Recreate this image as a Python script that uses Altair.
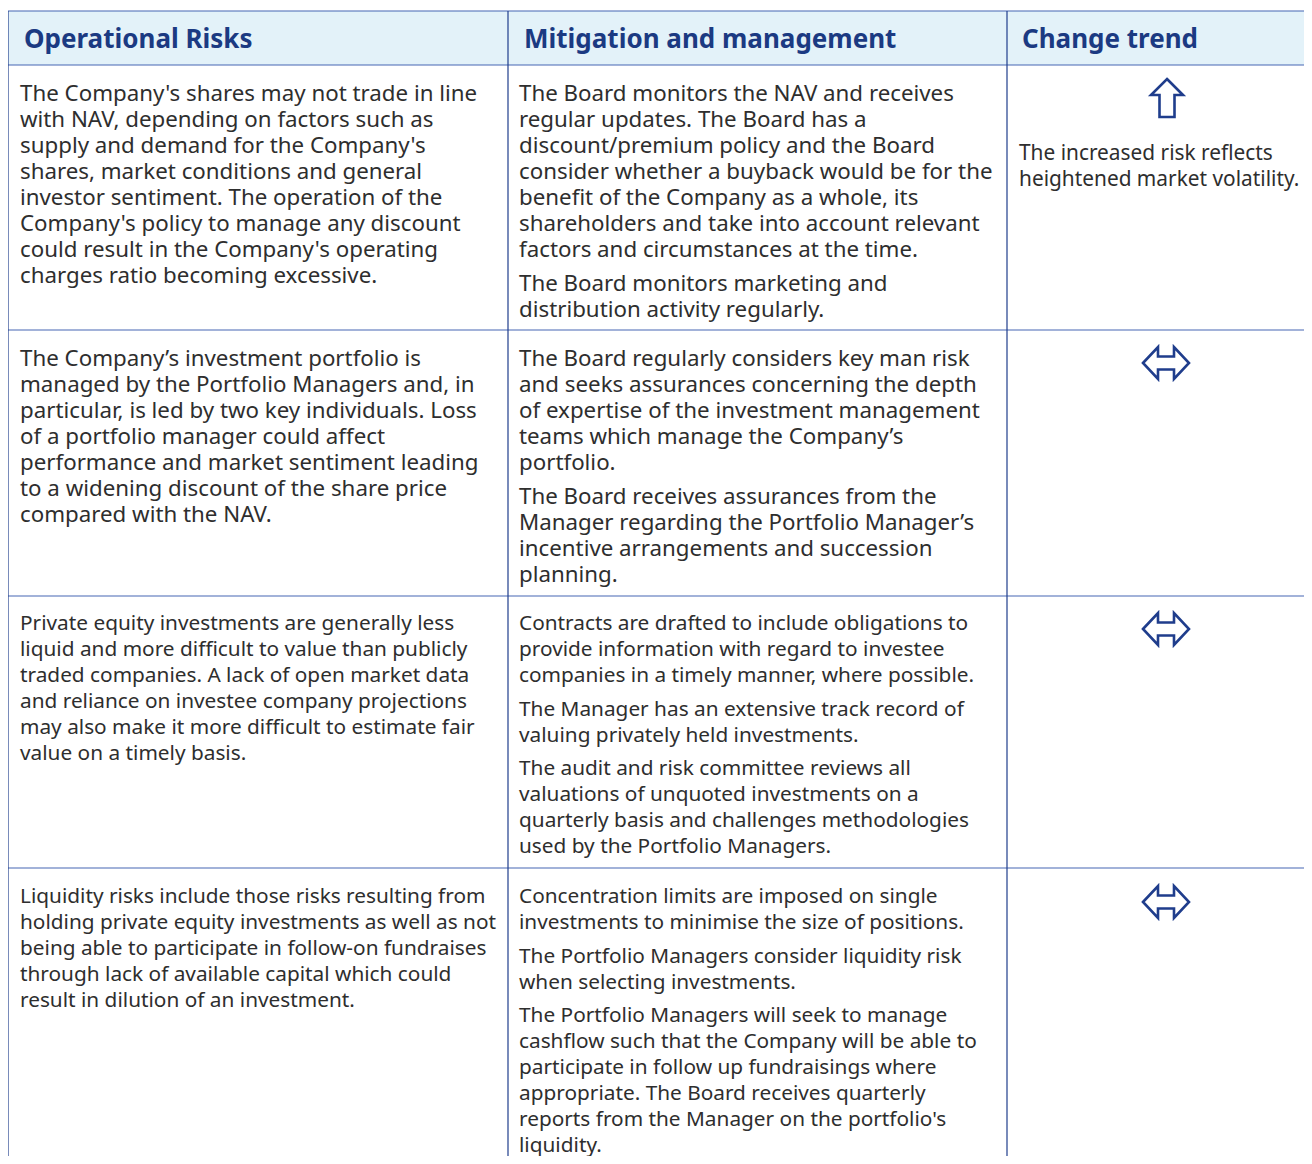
import altair as alt
import pandas as pd

# ---------------- data ----------------
headers = ["Operational Risks", "Mitigation and management", "Change trend"]

risk_text = [
    [["The Company's shares may not trade in line",
      "with NAV, depending on factors such as",
      "supply and demand for the Company's",
      "shares, market conditions and general",
      "investor sentiment. The operation of the",
      "Company's policy to manage any discount",
      "could result in the Company's operating",
      "charges ratio becoming excessive."]],
    [["The Company’s investment portfolio is",
      "managed by the Portfolio Managers and, in",
      "particular, is led by two key individuals. Loss",
      "of a portfolio manager could affect",
      "performance and market sentiment leading",
      "to a widening discount of the share price",
      "compared with the NAV."]],
    [["Private equity investments are generally less",
      "liquid and more difficult to value than publicly",
      "traded companies. A lack of open market data",
      "and reliance on investee company projections",
      "may also make it more difficult to estimate fair",
      "value on a timely basis."]],
    [["Liquidity risks include those risks resulting from",
      "holding private equity investments as well as not",
      "being able to participate in follow-on fundraises",
      "through lack of available capital which could",
      "result in dilution of an investment."]],
]

mitigation_text = [
    [["The Board monitors the NAV and receives",
      "regular updates. The Board has a",
      "discount/premium policy and the Board",
      "consider whether a buyback would be for the",
      "benefit of the Company as a whole, its",
      "shareholders and take into account relevant",
      "factors and circumstances at the time."],
     ["The Board monitors marketing and",
      "distribution activity regularly."]],
    [["The Board regularly considers key man risk",
      "and seeks assurances concerning the depth",
      "of expertise of the investment management",
      "teams which manage the Company’s",
      "portfolio."],
     ["The Board receives assurances from the",
      "Manager regarding the Portfolio Manager’s",
      "incentive arrangements and succession",
      "planning."]],
    [["Contracts are drafted to include obligations to",
      "provide information with regard to investee",
      "companies in a timely manner, where possible."],
     ["The Manager has an extensive track record of",
      "valuing privately held investments."],
     ["The audit and risk committee reviews all",
      "valuations of unquoted investments on a",
      "quarterly basis and challenges methodologies",
      "used by the Portfolio Managers."]],
    [["Concentration limits are imposed on single",
      "investments to minimise the size of positions."],
     ["The Portfolio Managers consider liquidity risk",
      "when selecting investments."],
     ["The Portfolio Managers will seek to manage",
      "cashflow such that the Company will be able to",
      "participate in follow up fundraisings where",
      "appropriate. The Board receives quarterly",
      "reports from the Manager on the portfolio's",
      "liquidity."]],
]

trend_note = [
    [["The increased risk reflects", "heightened market volatility."]],
    [], [], [],
]
trend_dir = ["up", "flat", "flat", "flat"]

# ---------------- layout (page pixel coordinates) ----------------
W, H = 1296, 1148
col_edges = [8, 508, 1007, 1312]
text_x = [20, 519, 1019]
header_x = [24, 524, 1022]
table_top, header_bottom, table_bottom = 11, 65, 1164
row_tops = [65, 330, 596, 868]
first_baseline = [101, 366, 630, 903]
row_font = [22.3, 22.3, 20.8, 20.8]
note_font = 20.85
note_baseline = 160
line_h = 26
para_gap = 7.5
arrow_y = [98, 363, 629, 902]
arrow_x = 1166

BORDER_V = "#1f3d8c"
BORDER_H = "#4767b3"
HEAD_BG = "#e3f2f9"
HEAD_FG = "#1b3a82"
BODY_FG = "#2e2e2e"
FONT = "Noto Sans"

UP_PATH = "M0,-19 L16,-3 L7.5,-3 L7.5,19 L-7.5,19 L-7.5,-3 L-16,-3 Z"
LR_PATH = ("M-23,0 L-8,-16 L-8,-6.5 L8,-6.5 L8,-16 L23,0 L8,16 L8,6.5 "
           "L-8,6.5 L-8,16 Z")

# ---------------- build tables ----------------
def cell_lines(paras, x, y0, fs):
    out = []
    y = y0
    for p in paras:
        for ln in p:
            out.append({"x": x, "y": y, "text": ln, "fs": fs})
            y += line_h
        y += para_gap
    return out

body = []
for r in range(4):
    body += cell_lines(risk_text[r], text_x[0], first_baseline[r], row_font[r])
    body += cell_lines(mitigation_text[r], text_x[1], first_baseline[r], row_font[r])
    if trend_note[r]:
        body += cell_lines(trend_note[r], text_x[2], note_baseline, note_font)
body_df = pd.DataFrame(body)

head_df = pd.DataFrame({"x": header_x, "y": [48] * 3, "text": headers})

bg_df = pd.DataFrame({"x": [col_edges[0]], "x2": [col_edges[-1]],
                      "y": [table_top], "y2": [header_bottom]})

hlines = pd.DataFrame({"x": [col_edges[0]] * 5, "x2": [col_edges[-1]] * 5,
                       "y": [table_top, header_bottom] + row_tops[1:]})
vlines = pd.DataFrame({"x": col_edges[:3], "y": [table_top] * 3,
                       "y2": [table_bottom] * 3})

arrow_df = pd.DataFrame({"x": [arrow_x + (1 if d == "up" else 0) for d in trend_dir],
                         "y": arrow_y, "dir": trend_dir})

xs = alt.Scale(domain=[8, 8 + W], nice=False, zero=False)
ys = alt.Scale(domain=[8, 8 + H], nice=False, zero=False, reverse=True)
X = lambda f="x": alt.X(f"{f}:Q", scale=xs, axis=None)
Y = lambda f="y": alt.Y(f"{f}:Q", scale=ys, axis=None)

bg = alt.Chart(bg_df).mark_rect(color=HEAD_BG, clip=True).encode(
    x=X(), x2="x2:Q", y=Y(), y2="y2:Q")

hl = alt.Chart(hlines).mark_rule(color=BORDER_H, strokeWidth=1.2, clip=True).encode(
    x=X(), x2="x2:Q", y=Y())
vl = alt.Chart(vlines).mark_rule(color=BORDER_V, strokeWidth=1.2, clip=True).encode(
    x=X(), y=Y(), y2="y2:Q")

head = alt.Chart(head_df).mark_text(
    align="left", baseline="alphabetic", font=FONT, fontSize=26,
    fontWeight="bold", color=HEAD_FG).encode(x=X(), y=Y(), text="text:N")

txt = alt.Chart(body_df).mark_text(
    align="left", baseline="alphabetic", font=FONT,
    color=BODY_FG).encode(x=X(), y=Y(), text="text:N",
                          size=alt.Size("fs:Q", scale=None, legend=None))

arrows = alt.Chart(arrow_df).mark_point(
    filled=False, size=4, strokeWidth=2.6, color=BORDER_V, opacity=1).encode(
    x=X(), y=Y(),
    shape=alt.Shape("dir:N", scale=alt.Scale(domain=["up", "flat"],
                                             range=[UP_PATH, LR_PATH]),
                    legend=None))

chart = alt.layer(bg, hl, vl, head, txt, arrows).properties(
    width=W, height=H, padding=0, autosize=alt.AutoSizeParams(type="none"),
    background="white"
).configure_view(stroke=None)

chart.save("out.html", embed_options={"renderer": "svg", "actions": False})
